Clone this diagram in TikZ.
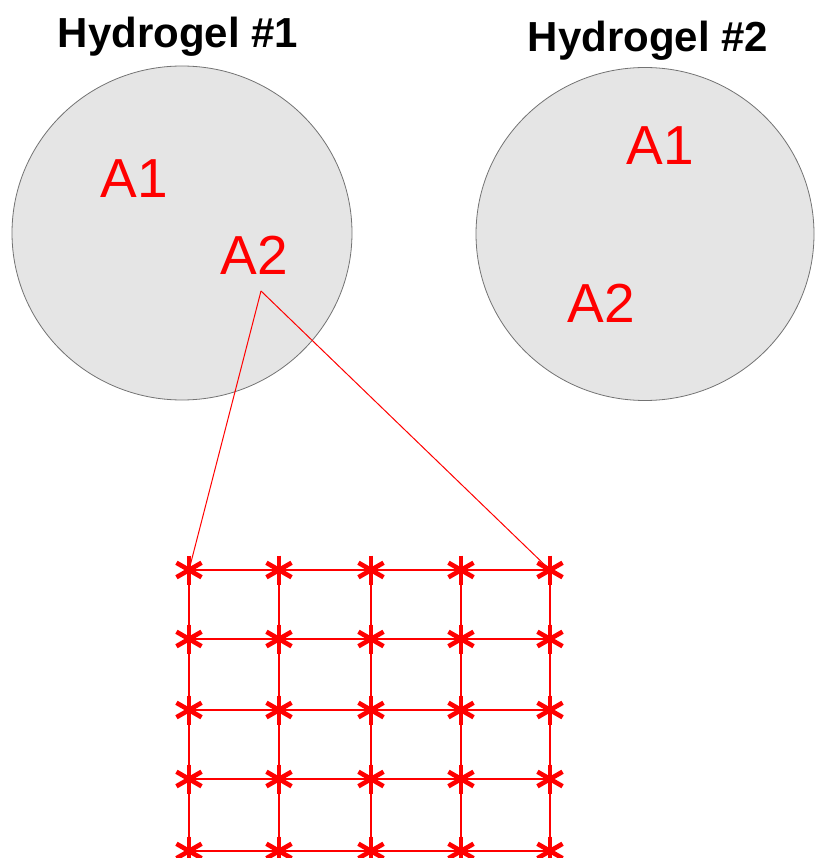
\documentclass[tikz,border=0pt]{standalone}
\usepackage{fontspec}
\setmainfont{Liberation Sans}
\usetikzlibrary{shapes.geometric}
\begin{document}
\begin{tikzpicture}[x=1pt,y=-1pt,
  gel/.style={draw=gray!90!black, line width=0.8pt, fill=gray!20, ellipse, inner sep=0},
  title/.style={font=\fontsize{42}{48}\selectfont\bfseries, anchor=base, inner sep=0},
  spot/.style={font=\fontsize{55}{60}\selectfont, text=red, anchor=base, inner sep=0},
  gridline/.style={draw=red, line width=1.8pt},
  zoomline/.style={draw=red, line width=1pt},
  star6/.style={inner sep=0, minimum size=32pt,
    path picture={\foreach \a in {90,30,150}
      {\draw[red, line width=4.6pt] (path picture bounding box.center) ++(\a:14.5pt) -- ++(\a+180:29pt);}}}
]
\useasboundingbox (0,0) rectangle (814,858);

% two hydrogel samples
\node[gel, minimum width=340pt, minimum height=334pt] (gel1) at (182,233) {};
\node[gel, minimum width=338pt, minimum height=333pt] (gel2) at (645,234) {};

\node[title] (t1) at (178,48) {Hydrogel \#1};
\node[title] (t2) at (648,52) {Hydrogel \#2};

\node[spot] (g1a1) at (134,198) {A1};
\node[spot] (g1a2) at (254,275) {A2};
\node[spot] (g2a1) at (660,165) {A1};
\node[spot] (g2a2) at (601,322) {A2};

\coordinate (focus) at (261,291);

% sampling grid
\foreach \c/\x in {1/189,2/279,3/371,4/461,5/550}
  \foreach \r/\y in {1/570,2/639,3/710,4/779,5/851}
    \coordinate (p\r\c) at (\x,\y);

\foreach \r in {1,...,5}
  \draw[gridline] (p\r1) -- (p\r2) -- (p\r3) -- (p\r4) -- (p\r5);
\foreach \c in {1,...,5}
  \draw[gridline] (p1\c) -- (p2\c) -- (p3\c) -- (p4\c) -- (p5\c);

\foreach \r in {1,...,5}
  \foreach \c in {1,...,5}
    \node[star6] (s\r\c) at (p\r\c) {};

\draw[zoomline] (focus) -- (s11.center);
\draw[zoomline] (focus) -- (s15.center);
\end{tikzpicture}
\end{document}
